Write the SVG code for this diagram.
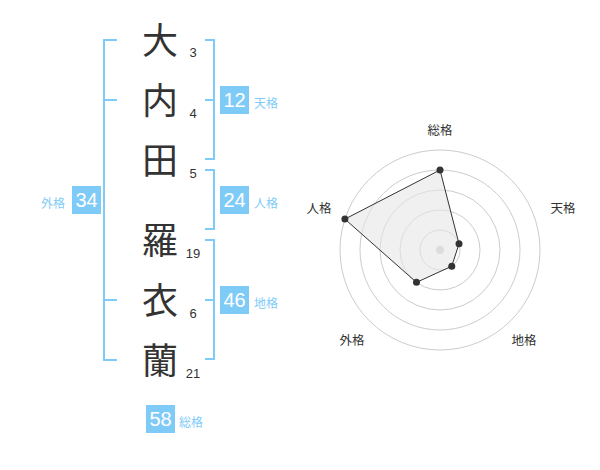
<svg xmlns="http://www.w3.org/2000/svg" width="600" height="470" viewBox="0 0 600 470">
<style>
.bk{fill:none;stroke:#7fcbf8;stroke-width:2}
.box{fill:#7fcbf8}
.bn{font-family:"Liberation Sans",Arial,sans-serif;font-size:20px;fill:#fff;text-anchor:middle}
.bl{font-family:"Noto Sans CJK JP",sans-serif;font-size:12px;fill:#7fcbf8}
.kj{font-family:"Noto Sans CJK JP",sans-serif;font-size:36px;fill:#333;text-anchor:middle}
.nm{font-family:"Liberation Sans",Arial,sans-serif;font-size:13px;fill:#333;text-anchor:middle}
.ring{fill:none;stroke:#cccccc;stroke-width:1}
.rl{font-family:"Noto Sans CJK JP",sans-serif;font-size:12.5px;fill:#333;text-anchor:middle}
.pt{fill:#333}
</style>
<rect width="600" height="470" fill="#fff"/>
<g id="characters">
<g id="c1"><text class="kj" x="160" y="54">大</text><text class="nm" x="193" y="57">3</text></g>
<g id="c2"><text class="kj" x="160" y="114">内</text><text class="nm" x="193" y="118">4</text></g>
<g id="c3"><text class="kj" x="160" y="174">田</text><text class="nm" x="193" y="178">5</text></g>
<g id="c4"><text class="kj" x="160" y="254">羅</text><text class="nm" x="193" y="258">19</text></g>
<g id="c5"><text class="kj" x="160" y="314">衣</text><text class="nm" x="193" y="318">6</text></g>
<g id="c6"><text class="kj" x="160" y="374">蘭</text><text class="nm" x="193" y="378">21</text></g>
</g>
<g id="brackets">
<path class="bk" d="M117,40 H104 V360 H117 M104,100 H117 M104,300 H117"/>
<path class="bk" d="M205,40 H214 V159 H205 M205,100 H214"/>
<path class="bk" d="M205,170 H214 V229 H205"/>
<path class="bk" d="M205,240 H214 V359 H205 M205,300 H214"/>
</g>
<g id="tenkaku"><rect class="box" x="220" y="86" width="29" height="28"/><text class="bn" x="234.5" y="107">12</text><text class="bl" x="254" y="108">天格</text></g>
<g id="jinkaku"><rect class="box" x="220" y="186" width="29" height="28"/><text class="bn" x="234.5" y="207">24</text><text class="bl" x="254" y="208">人格</text></g>
<g id="chikaku"><rect class="box" x="220" y="286" width="29" height="28"/><text class="bn" x="234.5" y="307">46</text><text class="bl" x="254" y="308">地格</text></g>
<g id="gaikaku"><rect class="box" x="72" y="186" width="29" height="28"/><text class="bn" x="86.5" y="207">34</text><text class="bl" x="41" y="208">外格</text></g>
<g id="soukaku"><rect class="box" x="146" y="405" width="29" height="28"/><text class="bn" x="160.5" y="426">58</text><text class="bl" x="179" y="427">総格</text></g>
<g id="radar">
<circle class="ring" cx="440" cy="250" r="20"/>
<circle class="ring" cx="440" cy="250" r="40"/>
<circle class="ring" cx="440" cy="250" r="60"/>
<circle class="ring" cx="440" cy="250" r="80"/>
<circle class="ring" cx="440" cy="250" r="100"/>
<circle cx="440" cy="250" r="4" fill="#cccccc"/>
<polygon points="440,170 459.02,243.82 451.76,266.18 416.49,282.36 344.89,219.1" fill="#e6e6e6" fill-opacity="0.6" stroke="#333" stroke-width="1"/>
<circle class="pt" cx="440" cy="170" r="3.5"/>
<circle class="pt" cx="459.02" cy="243.82" r="3.5"/>
<circle class="pt" cx="451.76" cy="266.18" r="3.5"/>
<circle class="pt" cx="416.49" cy="282.36" r="3.5"/>
<circle class="pt" cx="344.89" cy="219.1" r="3.5"/>
<text class="rl" x="440" y="135">総格</text>
<text class="rl" x="563" y="213">天格</text>
<text class="rl" x="524" y="345">地格</text>
<text class="rl" x="352" y="345">外格</text>
<text class="rl" x="319" y="213">人格</text>
</g>
</svg>
